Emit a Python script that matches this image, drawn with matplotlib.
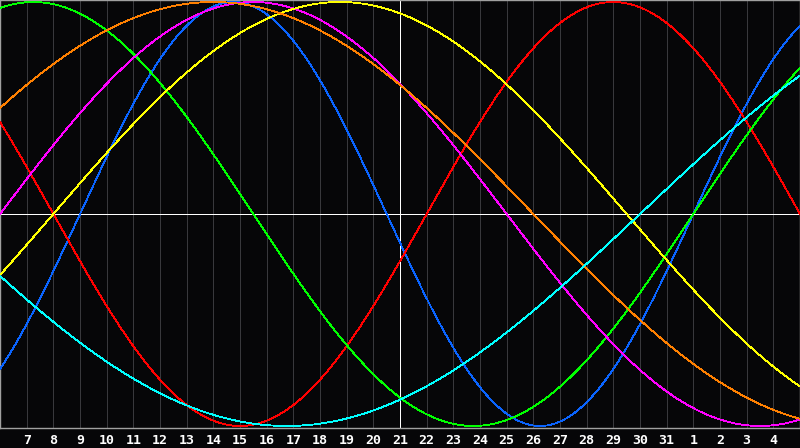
import numpy as np
import matplotlib
matplotlib.use("Agg")
import matplotlib.pyplot as plt

# biorhythm cycles (days) and their colours
periods = [23, 28, 33, 38, 43, 48, 53]
colors = ["#0a64ff", "#ff0000", "#00ff00", "#ff00ff", "#ffff00", "#ff8000", "#00ffff"]
days_alive = 37939          # day count at the centre day (21)
center_index = 15
n_days = 30

day_labels = [7, 8, 9, 10, 11, 12, 13, 14, 15, 16, 17, 18, 19, 20, 21, 22, 23,
              24, 25, 26, 27, 28, 29, 30, 31, 1, 2, 3, 4]
label_index = list(range(1, 30))

W, H = 800, 448
fig = plt.figure(figsize=(W / 100, H / 100), dpi=100)
fig.patch.set_facecolor("#060608")
ax = fig.add_axes([0, 20 / H, 1, 428 / H])
ax.set_facecolor("#060608")

ax.set_xlim(0, n_days)
lim = 214 / 212
ax.set_ylim(-lim, lim)

for i in range(n_days + 1):
    ax.axvline(i, color="#38383c", lw=0.72, zorder=1, antialiased=False)

x = np.linspace(0, n_days, 1601)
for p, c in zip(periods, colors):
    t = days_alive - center_index + x
    ax.plot(x, np.sin(2 * np.pi * t / p), color=c, lw=0.6, zorder=3,
            antialiased=False)

ax.axhline(0, color="white", lw=0.7, zorder=2, antialiased=False)
ax.axvline(center_index, color="white", lw=0.7, zorder=2, antialiased=False)

for s in ax.spines.values():
    s.set_color("#a0a0a0")
    s.set_linewidth(1.0)

ax.set_yticks([])
ax.set_xticks(label_index)
ax.set_xticklabels([str(d) for d in day_labels])
ax.tick_params(axis="x", length=0, pad=4, colors="white", labelsize=9.5)
for lab in ax.get_xticklabels():
    lab.set_fontfamily("DejaVu Sans Mono")
    lab.set_fontweight("bold")

fig.savefig("out.png", dpi=100, facecolor=fig.get_facecolor())
